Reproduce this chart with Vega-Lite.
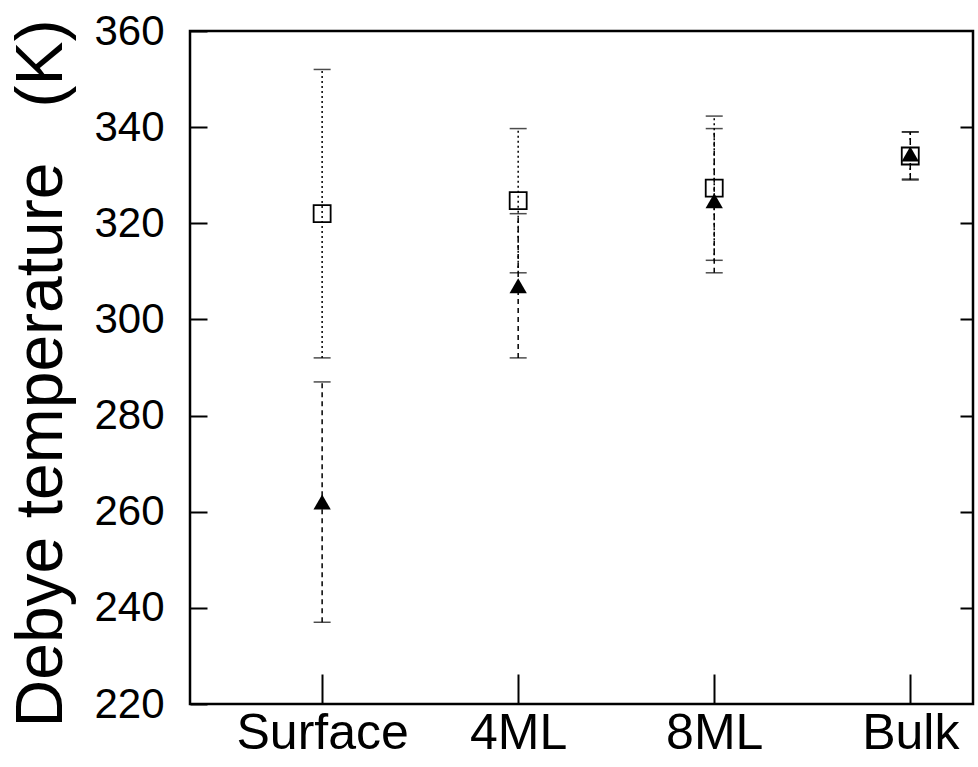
{
  "$schema": "https://vega.github.io/schema/vega-lite/v6.json",
  "width": 783,
  "height": 673,
  "autosize": {"type": "none"},
  "padding": {"left": 190, "top": 31, "right": 5, "bottom": 63},
  "background": "white",
  "config": {
    "view": {"stroke": "black", "strokeWidth": 2.5},
    "font": "Liberation Sans",
    "axis": {"grid": false, "domain": false, "tickColor": "black", "tickWidth": 2, "labelColor": "black", "titleColor": "black", "labelFont": "Liberation Sans", "titleFont": "Liberation Sans", "titleFontWeight": "normal"}
  },
  "data": {
    "values": [
      {"cat": "Surface", "x": 1, "series": "square", "value": 322, "lo": 292, "hi": 352},
      {"cat": "4ML", "x": 2, "series": "square", "value": 324.7, "lo": 309.7, "hi": 339.7},
      {"cat": "8ML", "x": 3, "series": "square", "value": 327.3, "lo": 312.3, "hi": 342.3},
      {"cat": "Bulk", "x": 4, "series": "square", "value": 334, "lo": 329, "hi": 339},
      {"cat": "Surface", "x": 1, "series": "triangle", "value": 262, "lo": 237, "hi": 287},
      {"cat": "4ML", "x": 2, "series": "triangle", "value": 307, "lo": 292, "hi": 322},
      {"cat": "8ML", "x": 3, "series": "triangle", "value": 324.7, "lo": 309.7, "hi": 339.7},
      {"cat": "Bulk", "x": 4, "series": "triangle", "value": 334.4, "lo": 329.2, "hi": 339}
    ]
  },
  "encoding": {
    "x": {
      "field": "x", "type": "quantitative",
      "scale": {"domain": [0.326, 4.32], "nice": false, "zero": false},
      "axis": {
        "values": [1, 2, 3, 4],
        "labelExpr": "datum.value == 1 ? 'Surface' : datum.value == 2 ? '4ML' : datum.value == 3 ? '8ML' : 'Bulk'",
        "tickSize": -30, "labelFontSize": 50, "labelPadding": 34, "title": null, "labelFlush": false
      }
    }
  },
  "layer": [
    {
      "layer": [
        {
          "transform": [{"filter": "datum.series == 'square'"}],
          "mark": {"type": "rule", "color": "black", "strokeWidth": 1.5, "strokeDash": [2, 3]},
          "encoding": {
            "y": {"field": "lo", "type": "quantitative", "scale": {"domain": [220, 360], "nice": false, "zero": false},
              "axis": {"values": [220, 240, 260, 280, 300, 320, 340, 360], "tickSize": -17, "labelFontSize": 42, "labelPadding": 43,
                "title": "Debye temperature\u00a0\u00a0\u00a0(K)", "titleFontSize": 66, "titlePadding": 18, "titleY": 342}},
            "y2": {"field": "hi"}
          }
        },
        {
          "transform": [{"filter": "datum.series == 'triangle'"}],
          "mark": {"type": "rule", "color": "black", "strokeWidth": 1.5, "strokeDash": [5, 4]},
          "encoding": {
            "y": {"field": "lo", "type": "quantitative"},
            "y2": {"field": "hi"}
          }
        },
        {
          "transform": [{"filter": "datum.series == 'square'"}],
          "mark": {"type": "tick", "orient": "horizontal", "color": "black", "size": 17, "thickness": 1.5, "strokeDash": [3, 3]},
          "encoding": {"y": {"field": "lo", "type": "quantitative"}}
        },
        {
          "transform": [{"filter": "datum.series == 'square'"}],
          "mark": {"type": "tick", "orient": "horizontal", "color": "black", "size": 17, "thickness": 1.5, "strokeDash": [3, 3]},
          "encoding": {"y": {"field": "hi", "type": "quantitative"}}
        },
        {
          "transform": [{"filter": "datum.series == 'triangle'"}],
          "mark": {"type": "tick", "orient": "horizontal", "color": "black", "size": 17, "thickness": 1.5, "strokeDash": [4, 3]},
          "encoding": {"y": {"field": "lo", "type": "quantitative"}}
        },
        {
          "transform": [{"filter": "datum.series == 'triangle'"}],
          "mark": {"type": "tick", "orient": "horizontal", "color": "black", "size": 17, "thickness": 1.5, "strokeDash": [4, 3]},
          "encoding": {"y": {"field": "hi", "type": "quantitative"}}
        },
        {
          "transform": [{"filter": "datum.series == 'square'"}],
          "mark": {"type": "point", "shape": "square", "size": 289, "filled": false, "stroke": "black", "strokeWidth": 1.8, "opacity": 1},
          "encoding": {"y": {"field": "value", "type": "quantitative"}}
        },
        {
          "transform": [{"filter": "datum.series == 'triangle'"}],
          "mark": {"type": "point", "shape": "triangle-up", "size": 300, "filled": true, "fill": "black", "opacity": 1},
          "encoding": {"y": {"field": "value", "type": "quantitative"}}
        }
      ]
    },
    {
      "transform": [{"filter": "datum.series == 'square'"}],
      "mark": {"type": "point", "opacity": 0},
      "encoding": {
        "y": {"field": "value", "type": "quantitative", "scale": {"domain": [220, 360], "nice": false, "zero": false},
          "axis": {"orient": "right", "values": [240, 260, 280, 300, 320, 340], "tickSize": -13, "labels": false, "title": null}}
      }
    }
  ],
  "resolve": {"scale": {"y": "independent"}, "axis": {"y": "independent"}}
}
